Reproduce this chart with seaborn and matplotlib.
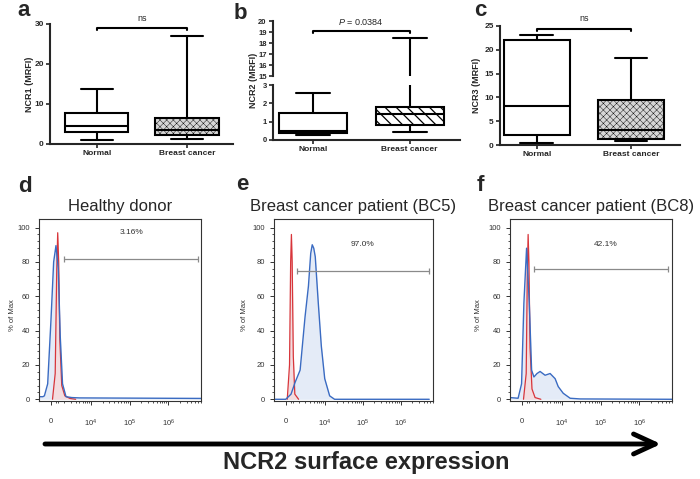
import numpy as np
import pandas as pd
import matplotlib
matplotlib.use("Agg")
import matplotlib.pyplot as plt
import seaborn as sns

# Box panels: five-number summaries (min, q1, median, q3, max)
groups = ["Normal", "Breast cancer"]
ncr1_normal = [1.0, 2.9, 4.6, 7.7, 13.8]
ncr1_cancer = [1.2, 2.3, 3.4, 6.6, 26.9]
ncr2_normal = [0.28, 0.38, 0.5, 1.45, 2.55]
ncr2_cancer = [0.45, 0.82, 1.4, 1.82, 18.5]
ncr3_normal = [0.5, 2.0, 8.2, 22.1, 23.1]
ncr3_cancer = [0.9, 1.25, 3.05, 9.5, 18.3]

# Histogram panels: x in decade units (tick "0" sits at 2.96), y in % of max
hist_ticks = [2.96, 4, 5, 6]
hist_ticklabels = ["0", "$10^4$", "$10^5$", "$10^6$"]

d_blue_x = [2.65, 2.75, 2.79, 2.875, 2.96, 3.03, 3.09, 3.15, 3.20, 3.26, 3.35, 3.5, 3.7, 6.85]
d_blue_y = [1.5, 1.5, 2, 9, 46, 80, 89.5, 76, 37, 9, 1.5, 1, 0.8, 0.5]
d_red_x = [3.0, 3.07, 3.11, 3.135, 3.16, 3.19, 3.24, 3.32, 3.45, 3.6]
d_red_y = [0, 15, 75, 97, 80, 35, 8, 2, 0.5, 0]

e_blue_x = [2.65, 2.96, 3.1, 3.21, 3.34, 3.47, 3.56, 3.62, 3.66, 3.70, 3.74, 3.82, 3.90, 3.99, 4.12, 4.25, 6.75]
e_blue_y = [0, 0, 3, 10, 17, 48, 66, 85, 90, 88, 83, 56, 31, 12, 2, 0, 0]
e_red_x = [3.0, 3.06, 3.09, 3.11, 3.13, 3.16, 3.2, 3.3]
e_red_y = [0, 20, 80, 96, 80, 25, 3, 0]

f_blue_x = [2.65, 2.86, 2.95, 3.01, 3.08, 3.15, 3.21, 3.27, 3.35, 3.43, 3.56, 3.69, 3.82, 3.9, 4.03, 4.21, 4.47, 6.85]
f_blue_y = [1, 0.6, 9, 56, 88, 56, 17, 13, 15, 16.2, 14, 15, 12, 7.4, 3.5, 0.6, 0.2, 0]
f_red_x = [3.0, 3.07, 3.1, 3.12, 3.14, 3.17, 3.22, 3.3, 3.45]
f_red_y = [0, 15, 75, 96, 80, 30, 6, 1, 0]

# gate: (start, end, height, label, label_x, label_y)
d_gate = (3.31, 6.77, 81.7, "3.16%", 5.04, 97)
e_gate = (3.25, 6.74, 75.0, "97.0%", 4.99, 90)
f_gate = (3.27, 6.75, 75.6, "42.1%", 5.12, 90)

W, H = 700, 479

sns.set_theme(style="ticks")
plt.rcParams["font.family"] = ["Liberation Sans", "DejaVu Sans"]
plt.rcParams["mathtext.fontset"] = "custom"
plt.rcParams["mathtext.rm"] = "Liberation Sans"
plt.rcParams["mathtext.it"] = "Liberation Sans:italic"
plt.rcParams["hatch.linewidth"] = 0.8

fig = plt.figure(figsize=(7, 4.79), dpi=100)


def px_axes(l, t, r, b):
    return fig.add_axes([l / W, 1 - b / H, (r - l) / W, (b - t) / H])


def box_panel(ax, normal, cancer, hatch, face, hatch_lw, tick_size=6):
    df = pd.DataFrame({"group": [groups[0]] * 5 + [groups[1]] * 5,
                       "value": normal + cancer})
    sns.boxplot(data=df, x="group", y="value", hue="group", order=groups,
                palette=["white", face], whis=(0, 100), width=0.7,
                linecolor="black", linewidth=1.5, legend=False, ax=ax)
    box = ax.patches[1]
    box.set_hatch(hatch)
    if hasattr(box, "set_hatch_linewidth"):
        box.set_hatch_linewidth(hatch_lw)
    ax.set_xlabel("")
    ax.set_ylabel("")
    sns.despine(ax=ax)
    for s in ["left", "bottom"]:
        ax.spines[s].set_linewidth(1.5)
    ax.tick_params(labelsize=tick_size, width=1.2, length=3, pad=1.5)
    for lab in ax.get_xticklabels() + ax.get_yticklabels():
        lab.set_fontweight("bold")
    for lab in ax.get_xticklabels():
        lab.set_fontsize(6)


def bracket(ax, y, drop, text, ty):
    ax.plot([0, 0, 1, 1], [y - drop, y, y, y - drop], color="black", lw=1.5, clip_on=False)
    ax.text(0.5, ty, text, ha="center", va="center", fontsize=6.5, clip_on=False)


# ---- panel a
ax_a = px_axes(50, 24, 233, 144)
box_panel(ax_a, ncr1_normal, ncr1_cancer, "xxxxx", "#d6d6d6", 0.3)
ax_a.set_ylim(0, 30)
ax_a.set_yticks([0, 10, 20, 30])
ax_a.set_xlim(-0.52, 1.51)
bracket(ax_a, 29, 0.6, "ns", 31.3)
fig.text(30 / W, 1 - 84 / H, "NCR1 (MRFI)", rotation=90, ha="center", va="center",
         fontsize=6.5, fontweight="bold")

# ---- panel b (broken axis)
ax_bu = px_axes(273, 21, 460, 76)
ax_bl = px_axes(273, 85, 460, 140)
for ax in (ax_bu, ax_bl):
    box_panel(ax, ncr2_normal, ncr2_cancer, "\\\\\\", "white", 0.9, tick_size=5.5)
    ax.set_xlim(-0.41, 1.52)
ax_bu.set_ylim(15, 20)
ax_bu.set_yticks([15, 16, 17, 18, 19, 20])
ax_bu.spines["bottom"].set_visible(False)
ax_bu.tick_params(axis="x", bottom=False, labelbottom=False)
ax_bl.set_ylim(0, 3)
ax_bl.set_yticks([0, 1, 2, 3])
ax_bu.plot([0, 0, 1, 1], [18.9, 19.1, 19.1, 18.9], color="black", lw=1.5, clip_on=False)
ax_bu.text(0.5, 19.95, "$P$ = 0.0384", ha="center", va="center", fontsize=6.5, clip_on=False)
fig.text(254 / W, 1 - 80 / H, "NCR2 (MRFI)", rotation=90, ha="center", va="center",
         fontsize=6.5, fontweight="bold")

# ---- panel c
ax_c = px_axes(500, 26, 680, 145)
box_panel(ax_c, ncr3_normal, ncr3_cancer, "xxxxx", "#d6d6d6", 0.3)
ax_c.set_ylim(0, 25)
ax_c.set_yticks([0, 5, 10, 15, 20, 25])
ax_c.set_xlim(-0.39, 1.52)
bracket(ax_c, 24.4, 0.5, "ns", 26.5)
fig.text(477 / W, 1 - 85 / H, "NCR3 (MRFI)", rotation=90, ha="center", va="center",
         fontsize=6.5, fontweight="bold")


# ---- histogram panels
def hist_panel(ax, title, bx, by, rx, ry, gate, ylab_x):
    ax.fill_between(bx, by, color="#e4ebf7", lw=0)
    ax.fill_between(rx, ry, color="#f3dcdf", lw=0)
    ax.plot(rx, ry, color="#d8353a", lw=0.9)
    ax.plot(bx, by, color="#3a6bc2", lw=1.0)
    x0, x1, gy, gl, lx, ly = gate
    ax.plot([x0, x1], [gy, gy], color="#8a8a8a", lw=0.9, marker="|", markersize=5,
            markeredgewidth=0.9)
    ax.text(lx, ly, gl, ha="center", va="center", fontsize=6, color="#333333")
    ax.set_xlim(2.65, 6.85)
    ax.set_ylim(-1, 105)
    ax.set_yticks([0, 20, 40, 60, 80, 100])
    ax.set_yticks(np.arange(0, 104, 4), minor=True)
    ax.set_xticks(hist_ticks)
    ax.set_xticklabels(hist_ticklabels)
    minor = [d + np.log10(k) for d in [3, 4, 5, 6] for k in range(2, 10)]
    ax.set_xticks([m for m in minor if 2.65 < m < 6.85] + [3.1, 3.15], minor=True)
    for s in ax.spines.values():
        s.set_linewidth(0.8)
        s.set_color("#333333")
    ax.tick_params(axis="both", which="major", labelsize=5.5, length=3, width=0.7,
                   colors="#333333")
    ax.tick_params(axis="both", which="minor", length=1.6, width=0.6, colors="#333333")
    ax.tick_params(axis="x", which="major", pad=9)
    ax.set_title(title, fontsize=12, pad=6)
    fig.text(ylab_x / W, 1 - 315 / H, "% of Max", rotation=90, ha="center", va="center",
             fontsize=5.5, color="#333333")


ax_d = px_axes(39, 219, 201, 401)
hist_panel(ax_d, "Healthy donor", d_blue_x, d_blue_y, d_red_x, d_red_y, d_gate, 13)
ax_e = px_axes(274, 219, 433, 401)
hist_panel(ax_e, "Breast cancer patient (BC5)", e_blue_x, e_blue_y, e_red_x, e_red_y, e_gate, 245)
ax_f = px_axes(510, 219, 672, 401)
hist_panel(ax_f, "Breast cancer patient (BC8)", f_blue_x, f_blue_y, f_red_x, f_red_y, f_gate, 478)

# panel letters
for letter, x, y in [("a", 17, 16), ("b", 234, 19), ("c", 474, 16),
                     ("d", 18, 192), ("e", 236, 190), ("f", 477, 191)]:
    fig.text(x / W, 1 - y / H, letter, fontsize=16, fontweight="bold", va="baseline")

# bottom arrow and caption
ov = fig.add_axes([0, 0, 1, 1], facecolor="none")
ov.set_xlim(0, W)
ov.set_ylim(H, 0)
ov.axis("off")
ov.annotate("", xy=(661, 444), xytext=(45, 444),
            arrowprops=dict(arrowstyle="->,head_length=1.3,head_width=0.6",
                            lw=3.5, color="black", shrinkA=0, shrinkB=0))
ov.text(366, 463, "NCR2 surface expression", fontsize=17, fontweight="bold",
        ha="center", va="center")

fig.savefig("out.png", dpi=100)
